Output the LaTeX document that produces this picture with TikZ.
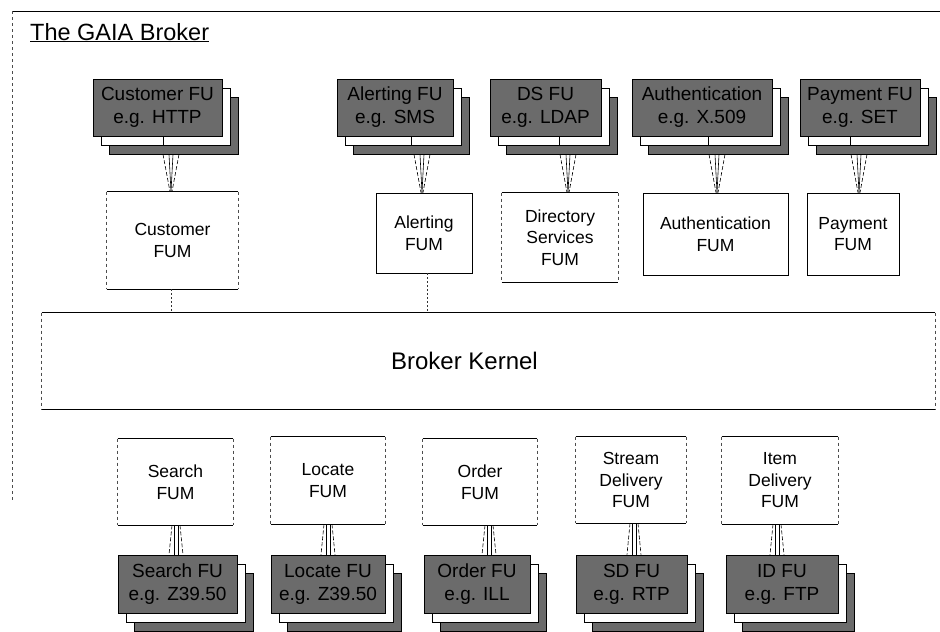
\documentclass[tikz,border=0pt]{standalone}
\usepackage{fontspec}
\setmainfont{Liberation Sans}
\newcommand{\rbox}[7]{%
  \pgfmathsetmacro\myBxc{((#3)+(#5))/2}\pgfmathsetmacro\myByc{((#4)+(#6))/2}%
  \pgfmathsetmacro\myBw{(#5)-(#3)}\pgfmathsetmacro\myBh{(#6)-(#4)}%
  \node[#1, minimum width=\myBw pt, minimum height=\myBh pt] (#2) at (\myBxc,\myByc) {#7};}
\newcommand{\fustack}[6]{%
  \rbox{fuback}{#1-back}{#2+16}{#3+18}{#4+16}{#5+18}{}%
  \rbox{fumid}{#1-mid}{#2+8}{#3+9}{#4+8}{#5+9}{}%
  \rbox{fuface}{#1}{#2}{#3}{#4}{#5}{#6}}
\newcommand{\faintbox}[1]{%
  \draw[edge] (#1.north west) -- (#1.north east);
  \draw[edge] (#1.south west) -- (#1.south east);
  \draw[side] (#1.north west) -- (#1.south west);
  \draw[side] (#1.north east) -- (#1.south east);}
\newcommand{\topconn}[4]{%
  \draw[csolid] (#4,0 |- #1.south) -- (#4,0 |- #1-mid.south);
  \draw[cdash] ({#3-8},0 |- #1-back.south) -- ({#3-1},0 |- #2.north);
  \draw[cdash] ({#3+8},0 |- #1-back.south) -- ({#3+1},0 |- #2.north);
  \draw[csolid] ({#3-2},0 |- #1-back.south) -- (#3,0 |- #2.north);
  \draw[csolid] ({#3+2},0 |- #1-back.south) -- (#3,0 |- #2.north);}
\newcommand{\botconn}[3]{%
  \draw[cdash] ({#3-4},0 |- #1.south) -- ({#3-7},0 |- #2.north);
  \draw[cdash] ({#3+4},0 |- #1.south) -- ({#3+7},0 |- #2.north);
  \draw[csolid] ({#3-2},0 |- #1.south) -- ({#3-2},0 |- #2.north);
  \draw[csolid] ({#3+2},0 |- #1.south) -- ({#3+2},0 |- #2.north);}
\begin{document}
\begin{tikzpicture}[x=1pt,y=-1pt,
  fum/.style={draw=black, line width=0.7pt, fill=white, inner sep=0pt, align=center, font=\fontsize{17.5}{21.5}\selectfont},
  fumnb/.style={fum, draw=none},
  fuface/.style={draw=black, line width=0.7pt, fill=black!58, inner sep=0pt, align=center, font=\fontsize{19}{23}\selectfont},
  fumid/.style={draw=black, line width=0.7pt, fill=white, inner sep=0pt},
  fuback/.style={draw=black, line width=0.7pt, fill=black!58, inner sep=0pt},
  cdash/.style={dash pattern=on 4pt off 2pt, line width=0.6pt},
  csolid/.style={line width=0.6pt},
  side/.style={dash pattern=on 3pt off 3pt, black!70, line width=0.5pt},
  kdash/.style={dash pattern=on 2pt off 2pt, black!80, line width=0.6pt},
  edge/.style={line width=0.7pt}]
\useasboundingbox (0,0) rectangle (940,632);
\fill[white] (0,0) rectangle (940,632);
% frame
\coordinate (ftl) at (12,11);
\coordinate (ftr) at (940,11);
\coordinate (fbl) at (12,500);
\draw[edge] (ftl) -- (ftr);
\draw[side] (ftl) -- (fbl);
\node[anchor=base west, font=\fontsize{23.5}{27}\selectfont, inner sep=0pt] (title) at (30,40) {\underline{The GAIA Broker}};
% top FU stacks
\fustack{cfu}{93}{79}{222}{136}{Customer FU\\e.g. HTTP}
\fustack{afu}{337}{79}{453}{136}{Alerting FU\\e.g. SMS}
\fustack{dfu}{490}{79}{601}{136}{DS FU\\e.g. LDAP}
\fustack{aufu}{632}{79}{772}{136}{Authentication\\e.g. X.509}
\fustack{pfu}{800}{79}{920}{136}{Payment FU\\e.g. SET}
% top FUMs
\rbox{fumnb}{cfum}{107}{192}{238}{289}{Customer\\FUM}
\rbox{fum}{afum}{376}{193}{472}{273}{Alerting\\FUM}
\rbox{fumnb}{dfum}{502}{193}{618}{282}{Directory\\Services\\FUM}
\rbox{fum}{aufum}{643}{193}{788}{275}{Authentication\\FUM}
\rbox{fum}{pfum}{807}{193}{899}{275}{Payment\\FUM}
\faintbox{cfum}
\faintbox{dfum}
% kernel
\rbox{fumnb}{kernel}{42}{313}{935}{409}{\fontsize{24}{28}\selectfont\hspace*{-48pt}Broker Kernel}
\faintbox{kernel}
% bottom FUMs
\rbox{fumnb}{sfum}{118}{439}{233}{525}{Search\\FUM}
\rbox{fumnb}{lfum}{271}{437}{385}{524}{Locate\\FUM}
\rbox{fumnb}{ofum}{423}{439}{537}{525}{Order\\FUM}
\rbox{fumnb}{sdfum}{576}{437}{686}{523}{Stream\\Delivery\\FUM}
\rbox{fumnb}{idfum}{722}{437}{838}{524}{Item\\Delivery\\FUM}
\faintbox{sfum}
\faintbox{lfum}
\faintbox{ofum}
\faintbox{sdfum}
\faintbox{idfum}
% bottom FU stacks
\fustack{sfu}{118}{555}{237}{613}{Search FU\\e.g. Z39.50}
\fustack{lfu}{271}{555}{385}{613}{Locate FU\\e.g. Z39.50}
\fustack{ofu}{424}{555}{530}{613}{Order FU\\e.g. ILL}
\fustack{sdfu}{576}{555}{687}{613}{SD FU\\e.g. RTP}
\fustack{idfu}{726}{555}{838}{613}{ID FU\\e.g. FTP}
% connectors top
\topconn{cfu}{cfum}{171}{163}
\topconn{afu}{afum}{422}{411}
\topconn{dfu}{dfum}{568}{559}
\topconn{aufu}{aufum}{717}{708}
\topconn{pfu}{pfum}{859}{850}
% connectors to kernel
\draw[kdash] (171,0 |- cfum.south) -- (171,0 |- kernel.north);
\draw[kdash] (427,0 |- afum.south) -- (427,0 |- kernel.north);
% connectors bottom
\botconn{sfum}{sfu}{176}
\botconn{lfum}{lfu}{328}
\botconn{ofum}{ofu}{489}
\botconn{sdfum}{sdfu}{634}
\botconn{idfum}{idfu}{777}
\end{tikzpicture}
\end{document}
